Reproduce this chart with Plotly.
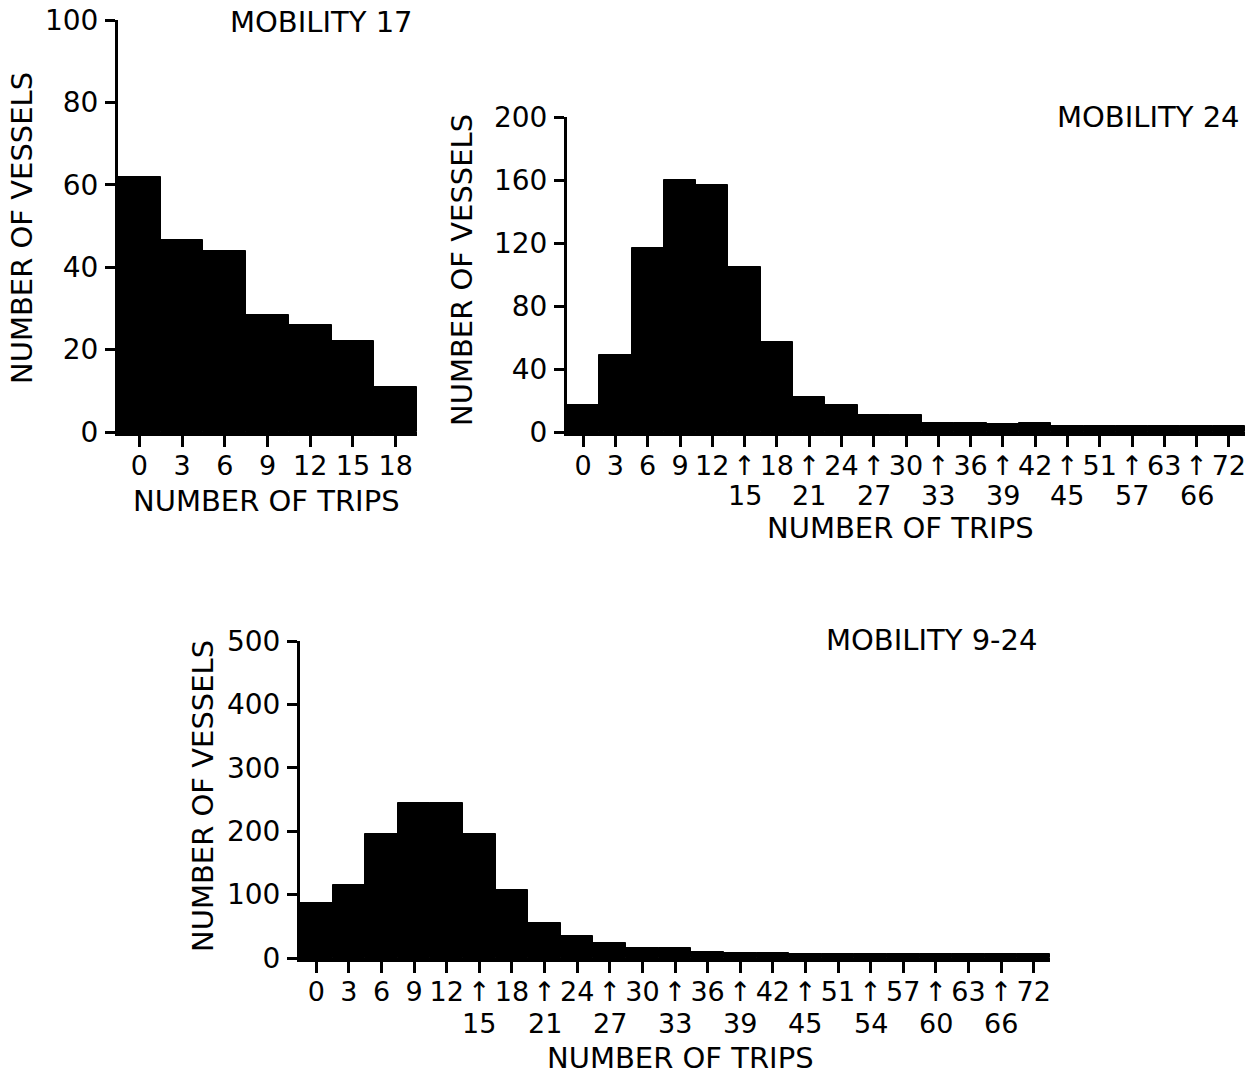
import plotly.graph_objects as go

# ---------------- data ----------------
trips17 = ["0", "3", "6", "9", "12", "15", "18"]
vessels17 = [62, 46.5, 44, 28.5, 26, 22, 11]

trips24 = ["0", "3", "6", "9", "12", "15", "18", "21", "24", "27", "30", "33",
           "36", "39", "42", "45", "51", "57", "63", "66", "72"]
vessels24 = [17, 49, 117, 160, 157, 105, 57, 22, 17, 10.5, 10.5, 6, 6, 5, 6,
             4, 4, 4, 4, 4, 4]

trips9_24 = ["0", "3", "6", "9", "12", "15", "18", "21", "24", "27", "30", "33",
             "36", "39", "42", "45", "51", "54", "57", "60", "63", "66", "72"]
vessels9_24 = [86, 115, 196, 245, 245, 195, 107, 56, 35, 23, 15, 15, 10, 8, 8,
               7, 7, 6, 6, 6, 6, 6, 6]

titles = ["MOBILITY 17", "MOBILITY 24", "MOBILITY 9-24"]
y_ranges = [(0, 100, 20), (0, 200, 40), (0, 500, 100)]

W, H = 1259, 1076
FONT = "DejaVu Sans"
FS = 27      # tick labels
FT = 29      # titles


def px(x):
    return x / W


def py(y):
    return 1 - y / H


fig = go.Figure()

panels = [
    dict(cats=trips17, vals=vessels17, xd=(118, 417), yd=(432, 20), two_rows=False),
    dict(cats=trips24, vals=vessels24, xd=(567, 1245), yd=(432, 117), two_rows=True),
    dict(cats=trips9_24, vals=vessels9_24, xd=(300, 1050), yd=(958, 641), two_rows=True),
]

annotations = []
for i, p in enumerate(panels):
    n = "" if i == 0 else str(i + 1)
    fig.add_trace(go.Bar(
        x=p["cats"], y=p["vals"], xaxis="x" + n, yaxis="y" + n,
        marker=dict(color="black", line=dict(color="black", width=1)),
        showlegend=False, hoverinfo="x+y",
    ))
    if p["two_rows"]:
        top = [("\u2191" if (k >= 5 and k % 2 == 1) else c) for k, c in enumerate(p["cats"])]
    else:
        top = list(p["cats"])
    lo, hi, dt = y_ranges[i]
    fig.update_layout(**{
        "xaxis" + n: dict(
            domain=[px(p["xd"][0]), px(p["xd"][1])],
            anchor="y" + n, type="category",
            categoryorder="array", categoryarray=p["cats"],
            range=[-0.5, len(p["cats"]) - 0.5],
            tickmode="array", tickvals=p["cats"], ticktext=top,
            ticks="outside", ticklen=11, tickwidth=3, tickcolor="black",
            showline=True, linewidth=4, linecolor="black",
            showgrid=False, zeroline=False, automargin=False,
            tickfont=dict(family=FONT, size=FS, color="black"),
            ticklabelstandoff=-4,
        ),
        "yaxis" + n: dict(
            domain=[py(p["yd"][0]), py(p["yd"][1])],
            anchor="x" + n, range=[lo, hi], dtick=dt, tick0=0,
            ticks="outside", ticklen=10, tickwidth=3, tickcolor="black",
            showline=True, linewidth=3, linecolor="black",
            showgrid=False, zeroline=False, automargin=False,
            tickfont=dict(family=FONT, size=FS + 1, color="black"),
            ticklabelstandoff=1,
        ),
    })
    if p["two_rows"]:
        row2_y = 496 if i == 1 else 1023
        for k, c in enumerate(p["cats"]):
            if k >= 5 and k % 2 == 1:
                annotations.append(dict(
                    x=k, xref="x" + n, y=py(row2_y), yref="paper",
                    text=c, showarrow=False, yanchor="middle", xanchor="center",
                    font=dict(family=FONT, size=FS, color="black"),
                ))

# axis titles and panel titles
ytitle_pos = [(22, 228), (462, 270), (203, 796)]
xtitle_pos = [(266, 501), (900, 528), (680, 1058)]
title_pos = [(321, 22), (1148, 117), (931, 640)]
for i in range(3):
    annotations.append(dict(
        x=px(ytitle_pos[i][0]), y=py(ytitle_pos[i][1]), xref="paper", yref="paper",
        text="NUMBER OF VESSELS", textangle=-90, showarrow=False,
        xanchor="center", yanchor="middle",
        font=dict(family=FONT, size=FT, color="black"),
    ))
    annotations.append(dict(
        x=px(xtitle_pos[i][0]), y=py(xtitle_pos[i][1]), xref="paper", yref="paper",
        text="NUMBER OF TRIPS", showarrow=False,
        xanchor="center", yanchor="middle",
        font=dict(family=FONT, size=FT, color="black"),
    ))
    annotations.append(dict(
        x=px(title_pos[i][0]), y=py(title_pos[i][1]), xref="paper", yref="paper",
        text=titles[i], showarrow=False,
        xanchor="center", yanchor="middle",
        font=dict(family=FONT, size=FT, color="black"),
    ))

fig.update_layout(
    width=W, height=H,
    margin=dict(l=0, r=0, t=0, b=0, autoexpand=False),
    paper_bgcolor="white", plot_bgcolor="white",
    bargap=0, annotations=annotations,
    font=dict(family=FONT, size=FS, color="black"),
)

fig.write_html("out.html",
               config={"displayModeBar": False},
               post_script="document.body.style.margin='0px';"
                           "document.body.style.overflow='hidden';")
